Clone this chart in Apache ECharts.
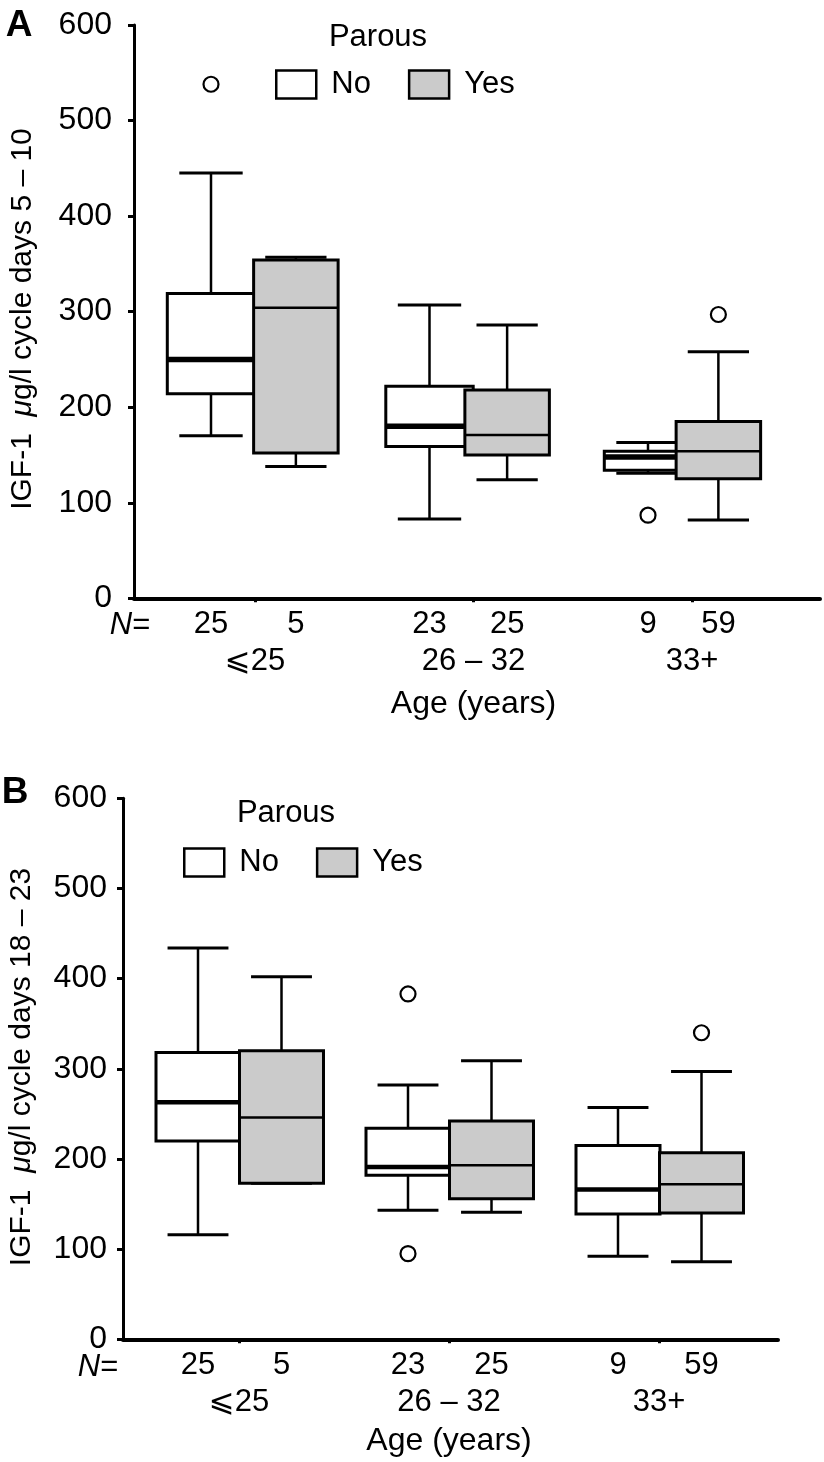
<!DOCTYPE html>
<html><head><meta charset="utf-8">
<script src="https://cdn.jsdelivr.net/npm/echarts@6/dist/echarts.min.js"></script>
<style>html,body{margin:0;padding:0;background:#fff}#c{width:824px;height:1462px}</style>
</head><body><div id="c"></div>
<script>
// ---------------- data ----------------
const ageGroups = ['⩽25', '26 – 32', '33+'];
const nNo = [25, 23, 9];
const nYes = [5, 25, 59];
const yMin = 0, yMax = 600, yInterval = 100;
// [ageGroupIndex, lowerWhisker, Q1, median, Q3, upperWhisker]
const boxA_No  = [[0, 170, 214, 250, 319, 445], [1, 83, 159, 180, 222, 307], [2, 131, 134, 148, 154, 163]];
const boxA_Yes = [[0, 138, 152, 304, 354, 357], [1, 124, 150, 171, 218, 286], [2, 82, 125, 154, 185, 258]];
const outA_No  = [[0, 538], [2, 87]];
const outA_Yes = [[2, 297]];
const boxB_No  = [[0, 116, 220, 263, 318, 434], [1, 143, 182, 191, 234, 282], [2, 92, 139, 166, 215, 257]];
const boxB_Yes = [[0, 173, 173, 246, 320, 402], [1, 141, 156, 193, 242, 309], [2, 86, 140, 172, 207, 297]];
const outB_No  = [[1, 383], [1, 95]];
const outB_Yes = [[2, 340]];
const titleA = 'IGF-1  {i|μ}g/l cycle days 5 – 10';
const titleB = 'IGF-1  {i|μ}g/l cycle days 18 – 23';

// ---------------- chart ----------------
const FONT = "'Liberation Sans','DejaVu Sans',sans-serif";
const GRAY = '#cbcbcb';
const option = { animation: false, backgroundColor: '#fff', grid: [], xAxis: [], yAxis: [], series: [], legend: [], graphic: [] };

function boxRenderer(fill, medW) {
  return function (params, api) {
    const c = api.value(0);
    const pLo = api.coord([c, api.value(1)]);
    const pQ1 = api.coord([c, api.value(2)]);
    const pMd = api.coord([c, api.value(3)]);
    const pQ3 = api.coord([c, api.value(4)]);
    const pHi = api.coord([c, api.value(5)]);
    const band = api.size([1, 0])[0];
    const x = pMd[0], bw = band * 0.4, cw = band * 0.29;
    const ln = (x1, y1, x2, y2, w) => ({ type: 'line', shape: { x1, y1, x2, y2 }, style: { stroke: '#000', lineWidth: w } });
    return { type: 'group', children: [
      ln(x, pHi[1], x, pQ3[1], 2.5),
      ln(x, pQ1[1], x, pLo[1], 2.5),
      ln(x - cw / 2, pHi[1], x + cw / 2, pHi[1], 3),
      ln(x - cw / 2, pLo[1], x + cw / 2, pLo[1], 3),
      { type: 'rect', shape: { x: x - bw / 2, y: pQ3[1], width: bw, height: pQ1[1] - pQ3[1] }, style: { fill: fill, stroke: '#000', lineWidth: 3 } },
      ln(x - bw / 2, pMd[1], x + bw / 2, pMd[1], medW)
    ] };
  };
}

function addPanel(L, boxNo, boxYes, outNo, outYes) {
  const gi = option.grid.length;
  const W = L.band * 3;
  const g0 = L.grpCenter0 - L.band / 2;
  [[L.axisLeft, L.axisRight - L.axisLeft], [g0, W], [g0 + L.offNo, W], [g0 + L.offYes, W]].forEach(g =>
    option.grid.push({ left: g[0], width: g[1], top: L.top, height: L.height }));
  for (let k = 0; k < 4; k++) {
    option.yAxis.push({
      gridIndex: gi + k, type: 'value', min: yMin, max: yMax, interval: yInterval, show: k === 0,
      axisLine: { show: true, lineStyle: { color: '#000', width: 3 } },
      axisTick: { show: true, length: 6, lineStyle: { color: '#000', width: 3 } },
      axisLabel: { color: '#000', fontSize: 32, fontFamily: FONT, margin: L.yLabelMargin },
      splitLine: { show: false }
    });
  }
  option.xAxis.push({ gridIndex: gi, type: 'value', min: 0, max: 1, position: 'bottom',
    axisLine: { show: true, onZero: false, lineStyle: { color: '#000', width: 4 } },
    axisTick: { show: false }, axisLabel: { show: false }, splitLine: { show: false } });
  option.xAxis.push({ gridIndex: gi + 1, type: 'category', data: ageGroups,
    axisLine: { show: false },
    axisTick: { show: true, alignWithLabel: true, length: 4, lineStyle: { color: '#000', width: 3 } },
    axisLabel: { color: '#000', fontSize: 31, fontFamily: FONT, margin: L.grpMargin },
    name: 'Age (years)', nameLocation: 'middle', nameGap: L.nameGap,
    nameTextStyle: { color: '#000', fontSize: 32, fontFamily: FONT } });
  [nNo, nYes].forEach((arr, j) => option.xAxis.push({ gridIndex: gi + 2 + j, type: 'category', data: arr.map(String),
    axisLine: { show: false }, axisTick: { show: false },
    axisLabel: { color: '#000', fontSize: 31, fontFamily: FONT, margin: L.nMargin } }));

  option.series.push({ type: 'custom', name: 'No', xAxisIndex: gi + 2, yAxisIndex: gi + 2, data: boxNo,
    encode: { x: 0, y: [1, 2, 3, 4, 5] }, itemStyle: { color: '#fff' }, renderItem: boxRenderer('#fff', L.medNo), clip: false });
  option.series.push({ type: 'custom', name: 'Yes', xAxisIndex: gi + 3, yAxisIndex: gi + 3, data: boxYes,
    encode: { x: 0, y: [1, 2, 3, 4, 5] }, itemStyle: { color: GRAY }, renderItem: boxRenderer(GRAY, 2.5), clip: false });
  [[outNo, gi + 2], [outYes, gi + 3]].forEach(o => option.series.push({ type: 'scatter', name: 'outlier', xAxisIndex: o[1], yAxisIndex: o[1],
    data: o[0], symbol: 'circle', symbolSize: 15, itemStyle: { color: '#fff', borderColor: '#000', borderWidth: 2.2, opacity: 1 } }));

  option.legend.push({ left: L.legLeft, top: L.legTop, padding: 0, orient: 'horizontal', selectedMode: false,
    itemWidth: 40, itemHeight: 28, itemGap: 37,
    textStyle: { color: '#000', fontSize: 31, fontFamily: FONT, padding: [0, 0, 0, 10] },
    data: [
      { name: 'No', icon: 'rect', itemStyle: { color: '#fff', borderColor: '#000', borderWidth: 2.5 } },
      { name: 'Yes', icon: 'rect', itemStyle: { color: GRAY, borderColor: '#000', borderWidth: 2.5 } }
    ] });

  const txt = (x, y, text, extra) => Object.assign({ type: 'text', x: x, y: y, silent: true,
    style: Object.assign({ text: text, fill: '#000', fontSize: 31, fontFamily: FONT, align: 'center', verticalAlign: 'middle' }, extra || {}) });
  option.graphic.push(txt(L.letterX, L.letterY, L.letter, { fontWeight: 'bold', fontSize: 37 }));
  option.graphic.push(txt(L.parousX, L.parousY, 'Parous'));
  option.graphic.push(txt(L.nX, L.nY, '{i|N}=', { rich: { i: { fontStyle: 'italic', fontSize: 31, fontFamily: FONT } } }));
  const t = txt(L.titleX, L.titleY, L.title, { fontSize: 30, rich: { i: { fontStyle: 'italic', fontSize: 30, fontFamily: FONT } } });
  t.rotation = Math.PI / 2;
  option.graphic.push(t);
}

addPanel({ top: 25, height: 573.3, axisLeft: 134, axisRight: 820, grpCenter0: 255, band: 218.5, offNo: -44, offYes: 44.5,
  yLabelMargin: 22, grpMargin: 48, nMargin: 11, nameGap: 90, medNo: 5.5,
  legLeft: 275, legTop: 69, letter: 'A', letterX: 19, letterY: 26, parousX: 378, parousY: 37,
  nX: 130, nY: 625, titleX: 23, titleY: 319, title: titleA }, boxA_No, boxA_Yes, outA_No, outA_Yes);

addPanel({ top: 798.3, height: 541, axisLeft: 123, axisRight: 778, grpCenter0: 239, band: 210, offNo: -41, offYes: 42.5,
  yLabelMargin: 16, grpMargin: 48, nMargin: 11, nameGap: 86, medNo: 4.5,
  legLeft: 183, legTop: 847, letter: 'B', letterX: 15, letterY: 793, parousX: 286, parousY: 813,
  nX: 98, nY: 1367, titleX: 22, titleY: 1067, title: titleB }, boxB_No, boxB_Yes, outB_No, outB_Yes);

const chart = echarts.init(document.getElementById('c'), null, { renderer: 'canvas', width: 824, height: 1462 });
chart.setOption(option);
</script></body></html>
